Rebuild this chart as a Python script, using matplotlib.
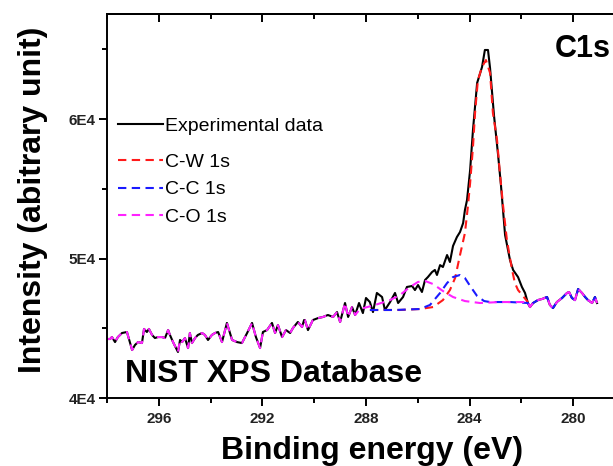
import numpy as np
import matplotlib
matplotlib.use('Agg')
import matplotlib.pyplot as plt
from matplotlib.ticker import MultipleLocator, FixedLocator, FixedFormatter

plt.rcParams['font.family'] = ['Liberation Sans', 'DejaVu Sans']

# experimental C1s spectrum (binding energy in eV, intensity in counts)
exp_energy = np.array([
    298.00, 297.88, 297.81, 297.69, 297.58, 297.42, 297.23, 297.03, 296.92, 296.80,
    296.65, 296.57, 296.46, 296.38, 296.26, 296.15, 296.03, 295.88, 295.76, 295.64,
    295.57, 295.45, 295.26, 295.18, 295.10, 294.99, 294.87, 294.80, 294.72, 294.60,
    294.49, 294.33, 294.22, 294.10, 293.95, 293.83, 293.71, 293.56, 293.37, 293.17,
    292.98, 292.79, 292.59, 292.40, 292.25, 292.09, 291.98, 291.82, 291.63, 291.51,
    291.40, 291.24, 291.09, 290.93, 290.82, 290.63, 290.47, 290.39, 290.36, 290.24,
    290.05, 289.85, 289.66, 289.47, 289.27, 289.12, 289.00, 288.81, 288.69, 288.54,
    288.42, 288.27, 288.12, 288.00, 287.85, 287.73, 287.58, 287.38, 287.27, 287.07,
    286.88, 286.76, 286.57, 286.42, 286.22, 286.11, 285.99, 285.84, 285.72, 285.61,
    285.45, 285.34, 285.26, 285.14, 285.03, 284.87, 284.76, 284.64, 284.49, 284.37,
    284.25, 284.18, 284.10, 283.98, 283.87, 283.71, 283.52, 283.41, 283.29, 283.21,
    283.06, 282.90, 282.79, 282.71, 282.63, 282.44, 282.32, 282.13, 281.98, 281.86,
    281.75, 281.67, 281.55, 281.36, 281.20, 281.01, 280.90, 280.78, 280.63, 280.43,
    280.24, 280.16, 280.05, 279.93, 279.81, 279.66, 279.54, 279.43, 279.27, 279.16,
    279.08])
exp_counts = np.array([
    44230, 44230, 44370, 44010, 44370, 44660, 44730, 43440, 43800, 44010,
    43940, 44950, 44730, 44950, 44520, 44300, 44370, 44370, 44300, 44870,
    44520, 44010, 43300, 44160, 44010, 44300, 43580, 44660, 43940, 44300,
    44520, 44660, 44520, 44160, 44520, 44660, 44730, 44010, 45380, 44160,
    44010, 43940, 44660, 45380, 44370, 43580, 44730, 44870, 45380, 44660,
    45230, 44370, 44870, 44660, 45020, 45450, 45090, 45590, 45590, 44870,
    45590, 45730, 45810, 45950, 45810, 46160, 45450, 46810, 45810, 46520,
    45950, 46810, 46090, 47170, 46880, 46160, 47530, 47240, 46310, 46880,
    47530, 46810, 47240, 47960, 48030, 47740, 48100, 47600, 48460, 48670,
    49030, 49180, 48820, 49530, 49390, 50250, 49750, 50900, 51540, 51900,
    52540, 53480, 54190, 56340, 59210, 62580, 63730, 64950, 64950, 63650,
    60290, 57420, 55270, 53480, 51680, 49890, 49180, 48670, 47960, 47530,
    46810, 46520, 46810, 47020, 47100, 47240, 46670, 46450, 46880, 47170,
    47530, 47600, 47170, 47020, 47810, 47530, 47240, 47020, 46810, 47240,
    46810])

# C-W 1s component
cw_energy = np.array([287.85, 286.69, 285.92, 285.41, 285.03, 284.76, 284.56, 284.37,
                      284.18, 284.06, 283.98, 283.87, 283.79, 283.68, 283.52, 283.37,
                      283.21, 283.10, 282.94, 282.83, 282.71, 282.56, 282.36, 282.25,
                      282.13, 281.94, 281.75])
cw_counts = np.array([46310, 46310, 46380, 46520, 47020, 47740, 48600, 50250,
                      51830, 53830, 55410, 57990, 60430, 62790, 63730, 64230,
                      63300, 60430, 58490, 56130, 53830, 51330, 49180, 48240,
                      47740, 47310, 46880])

# C-C 1s component (peak part, right tail follows the data)
cc_energy = np.array([287.85, 286.88, 285.92, 285.53, 285.14, 284.87, 284.64, 284.37,
                      284.18, 283.98, 283.71, 283.44, 283.21, 282.44, 281.75])
cc_counts = np.array([46310, 46310, 46380, 46670, 47530, 48240, 48670, 48820,
                      48600, 48030, 47310, 46950, 46880, 46880, 46810])

# C-O 1s component (peak part, both tails follow the data)
co_energy = np.array([288.23, 287.65, 287.07, 286.69, 286.30, 285.99, 285.72, 285.41,
                      285.03, 284.64, 284.18, 283.60, 282.83, 281.75])
co_counts = np.array([46380, 46670, 47020, 47380, 47960, 48320, 48390, 48170,
                      47670, 47240, 46950, 46810, 46880, 46880])

x_ticks = [296, 292, 288, 284, 280]
y_ticks = [40000, 50000, 60000]
y_tick_labels = ['4E4', '5E4', '6E4']

# tails taken over from the measured curve
left_tail = exp_energy > 288.3
right_tail = exp_energy < 281.7
co_x = np.concatenate([exp_energy[left_tail], co_energy, exp_energy[right_tail]])
co_y = np.concatenate([exp_counts[left_tail], co_counts, exp_counts[right_tail]])
cc_x = np.concatenate([cc_energy, exp_energy[right_tail]])
cc_y = np.concatenate([cc_counts, exp_counts[right_tail]])

fig = plt.figure(figsize=(6.13, 4.66), dpi=100)
ax = fig.add_axes([107 / 613, 68 / 466, 518 / 613, 384 / 466])

dash = (0, (4, 2.6))
h_exp, = ax.plot(exp_energy, exp_counts, color='black', lw=1.5, label='Experimental data')
h_cw, = ax.plot(cw_energy, cw_counts, color='#ff1a1a', lw=1.5, ls=dash, label='C-W 1s')
h_cc, = ax.plot(cc_x, cc_y, color='#1a1aff', lw=1.5, ls=dash, label='C-C 1s')
h_co, = ax.plot(co_x, co_y, color='#ff22ff', lw=1.5, ls=dash, label='C-O 1s')

ax.set_xlim(298, 278)
ax.set_ylim(40000, 67530)

ax.xaxis.set_major_locator(FixedLocator(x_ticks))
ax.xaxis.set_minor_locator(MultipleLocator(2))
ax.yaxis.set_major_locator(FixedLocator(y_ticks))
ax.yaxis.set_major_formatter(FixedFormatter(y_tick_labels))
ax.yaxis.set_minor_locator(MultipleLocator(5000))

for side in ['left', 'bottom', 'top']:
    ax.spines[side].set_linewidth(1.4)
ax.spines['right'].set_visible(False)

ax.tick_params(which='major', length=6, width=1.4, direction='out')
ax.tick_params(which='minor', length=3.5, width=1.4, direction='out')
ax.tick_params(axis='x', pad=4)
ax.tick_params(axis='y', pad=2)
for lbl in ax.get_xticklabels() + ax.get_yticklabels():
    lbl.set_fontweight('bold')
    lbl.set_fontsize(11)
    lbl.set_color('#222222')

# inward ticks on the top edge
top = ax.secondary_xaxis('top')
top.xaxis.set_major_locator(FixedLocator(x_ticks))
top.xaxis.set_minor_locator(MultipleLocator(2))
top.tick_params(which='major', length=6, width=1.4, direction='in', labeltop=False)
top.tick_params(which='minor', length=3.5, width=1.4, direction='in')
top.spines['top'].set_linewidth(1.4)

fig.text(372 / 613, 1 - 459 / 466, 'Binding energy (eV)', fontsize=23,
         fontweight='bold', ha='center', va='baseline')
fig.text(33 / 613, 1 - 200 / 466, 'Intensity (abitrary unit)', fontsize=23,
         fontweight='bold', rotation=90, ha='center', va='center')

fig.text(555 / 613, 1 - 57 / 466, 'C1s', fontsize=22, fontweight='bold',
         ha='left', va='baseline')
fig.text(125 / 613, 1 - 382 / 466, 'NIST XPS Database', fontsize=23,
         fontweight='bold', ha='left', va='baseline')

# legend: data entry a bit apart from the three fit components
leg1 = ax.legend(handles=[h_exp], loc='upper left', bbox_to_anchor=(0.021, 0.730),
                 frameon=False, fontsize=14, handlelength=2.3, handletextpad=0.1,
                 borderaxespad=0, borderpad=0)
ax.add_artist(leg1)
ax.legend(handles=[h_cw, h_cc, h_co], loc='upper left', bbox_to_anchor=(0.021, 0.637),
          frameon=False, fontsize=14, handlelength=2.3, handletextpad=0.1,
          labelspacing=0.5, borderaxespad=0, borderpad=0)

fig.savefig('out.png', dpi=100)
